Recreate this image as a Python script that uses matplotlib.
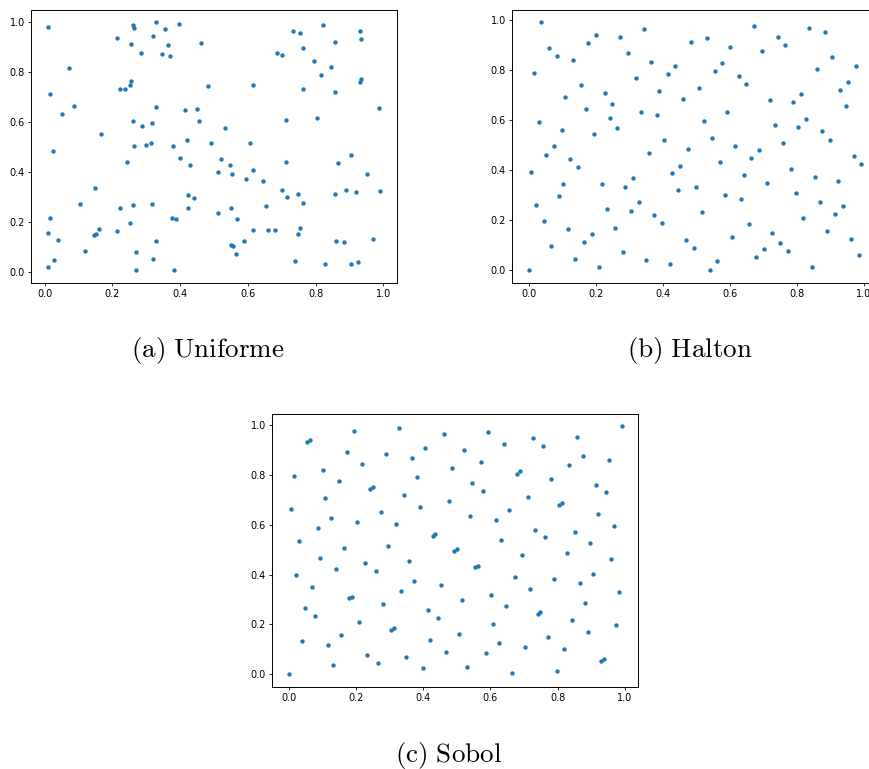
import matplotlib
matplotlib.use("Agg")
import matplotlib.pyplot as plt

# -----------------------------
#  Points
# -----------------------------
unif_x = [0.010, 0.261, 0.263, 0.330, 0.397, 0.354, 0.214, 0.320, 0.256, 0.365,
          0.463, 0.286, 0.347, 0.371, 0.073, 0.254, 0.252, 0.223, 0.237, 0.483,
          0.016, 0.088, 0.053, 0.328, 0.413, 0.449, 0.456, 0.261, 0.317, 0.288,
          0.168, 0.315, 0.421, 0.490,
          0.823, 0.733, 0.755, 0.930, 0.934, 0.858, 0.762, 0.687, 0.701, 0.794,
          0.845, 0.816, 0.934, 0.932, 0.616, 0.764, 0.856, 0.986, 0.712, 0.805,
          0.533, 0.607,
          0.025, 0.265, 0.300, 0.379, 0.243, 0.399, 0.428, 0.149, 0.106, 0.016,
          0.223, 0.261, 0.317, 0.424, 0.441, 0.422, 0.376, 0.387, 0.252, 0.010,
          0.147, 0.151, 0.162, 0.214, 0.040, 0.330, 0.118, 0.271, 0.027, 0.320,
          0.010, 0.271, 0.381,
          0.522, 0.513, 0.546, 0.553, 0.614, 0.712, 0.595, 0.644, 0.866, 0.904,
          0.952, 0.701, 0.716, 0.749, 0.762, 0.857, 0.890, 0.918, 0.990, 0.511,
          0.551, 0.653, 0.568, 0.616, 0.660, 0.680, 0.755, 0.749, 0.590, 0.551,
          0.556, 0.566, 0.861, 0.884, 0.969, 0.740, 0.827, 0.903, 0.924]
unif_y = [0.981, 0.991, 0.979, 1.000, 0.993, 0.973, 0.937, 0.945, 0.913, 0.911,
          0.916, 0.879, 0.872, 0.865, 0.816, 0.765, 0.748, 0.731, 0.733, 0.745,
          0.712, 0.663, 0.632, 0.659, 0.647, 0.653, 0.605, 0.603, 0.595, 0.583,
          0.551, 0.517, 0.527, 0.515,
          0.991, 0.964, 0.957, 0.967, 0.935, 0.923, 0.899, 0.879, 0.869, 0.845,
          0.819, 0.789, 0.772, 0.760, 0.748, 0.733, 0.721, 0.656, 0.608, 0.617,
          0.576, 0.517,
          0.484, 0.503, 0.507, 0.503, 0.440, 0.457, 0.428, 0.337, 0.271, 0.216,
          0.255, 0.268, 0.273, 0.307, 0.295, 0.255, 0.216, 0.212, 0.195, 0.156,
          0.145, 0.151, 0.171, 0.163, 0.127, 0.123, 0.083, 0.077, 0.047, 0.052,
          0.020, 0.008, 0.005,
          0.452, 0.401, 0.428, 0.392, 0.408, 0.440, 0.372, 0.363, 0.437, 0.467,
          0.393, 0.328, 0.299, 0.313, 0.275, 0.313, 0.328, 0.321, 0.324, 0.236,
          0.257, 0.263, 0.209, 0.168, 0.165, 0.165, 0.173, 0.151, 0.123, 0.107,
          0.103, 0.071, 0.123, 0.120, 0.129, 0.044, 0.032, 0.032, 0.037]

halton_x = [0.036, 0.014, 0.061, 0.085, 0.132, 0.178, 0.201, 0.273, 0.344, 0.295,
            0.366, 0.319, 0.414, 0.436, 0.156, 0.107, 0.226, 0.389, 0.248, 0.171,
            0.242, 0.335, 0.383, 0.029, 0.100, 0.264, 0.194, 0.404,
            0.672, 0.835, 0.884, 0.485, 0.531, 0.602, 0.743, 0.696, 0.765, 0.906,
            0.977, 0.578, 0.556, 0.626, 0.860, 0.648, 0.507, 0.954, 0.930, 0.461,
            0.719, 0.813, 0.790, 0.946, 0.593, 0.523, 0.734, 0.829, 0.805, 0.875,
            0.547, 0.758, 0.899,
            0.076, 0.052, 0.123, 0.147, 0.005, 0.359, 0.427, 0.101, 0.219, 0.288,
            0.312, 0.091, 0.021, 0.233, 0.304, 0.328, 0.374, 0.398, 0.046, 0.116,
            0.257, 0.187, 0.164, 0.067, 0.280, 0.139, 0.350, 0.421, 0.209, 0.000,
            0.476, 0.616, 0.688, 0.451, 0.445, 0.571, 0.663, 0.641, 0.782, 0.853,
            0.970, 0.992, 0.712, 0.924, 0.500, 0.586, 0.632, 0.798, 0.868, 0.939,
            0.516, 0.820, 0.915, 0.657, 0.890, 0.469, 0.608, 0.727, 0.492, 0.749,
            0.703, 0.774, 0.962, 0.678, 0.985, 0.562, 0.540, 0.844]
halton_y = [0.991, 0.790, 0.890, 0.858, 0.840, 0.908, 0.940, 0.931, 0.964, 0.867,
            0.831, 0.767, 0.783, 0.817, 0.742, 0.693, 0.707, 0.716, 0.665, 0.643,
            0.610, 0.633, 0.619, 0.592, 0.560, 0.568, 0.543, 0.519,
            0.975, 0.970, 0.952, 0.914, 0.928, 0.892, 0.933, 0.878, 0.902, 0.851,
            0.818, 0.827, 0.795, 0.777, 0.805, 0.745, 0.728, 0.754, 0.722, 0.684,
            0.680, 0.704, 0.671, 0.655, 0.631, 0.598, 0.580, 0.604, 0.571, 0.556,
            0.530, 0.507, 0.521,
            0.495, 0.459, 0.445, 0.412, 0.394, 0.469, 0.387, 0.344, 0.344, 0.334,
            0.370, 0.295, 0.261, 0.247, 0.239, 0.271, 0.220, 0.188, 0.196, 0.165,
            0.171, 0.146, 0.114, 0.097, 0.073, 0.046, 0.040, 0.024, 0.015, 0.000,
            0.486, 0.497, 0.479, 0.418, 0.321, 0.433, 0.449, 0.382, 0.406, 0.374,
            0.457, 0.423, 0.350, 0.357, 0.332, 0.300, 0.283, 0.309, 0.273, 0.259,
            0.232, 0.210, 0.226, 0.184, 0.159, 0.123, 0.135, 0.150, 0.089, 0.109,
            0.085, 0.077, 0.126, 0.053, 0.062, 0.036, 0.003, 0.012]

sobol_x = [0.194, 0.328, 0.461, 0.054, 0.062, 0.172, 0.289, 0.406, 0.366, 0.218,
           0.102, 0.485, 0.016, 0.383, 0.148, 0.243, 0.249, 0.344, 0.108, 0.476,
           0.007, 0.390, 0.274, 0.124, 0.203, 0.087, 0.319, 0.430, 0.436, 0.031,
           0.163, 0.296,
           0.593, 0.727, 0.859, 0.991, 0.522, 0.641, 0.758, 0.571, 0.875, 0.953,
           0.835, 0.679, 0.687, 0.782, 0.546, 0.577, 0.914, 0.945, 0.711, 0.804,
           0.813, 0.657, 0.540, 0.617, 0.922, 0.969, 0.733, 0.764, 0.852, 0.632,
           0.898,
           0.093, 0.227, 0.139, 0.258, 0.358, 0.022, 0.069, 0.374, 0.452, 0.334,
           0.178, 0.187, 0.280, 0.047, 0.414, 0.077, 0.445, 0.210, 0.303, 0.313,
           0.156, 0.038, 0.420, 0.116, 0.469, 0.234, 0.350, 0.132, 0.265, 0.400,
           0.000,
           0.491, 0.501, 0.695, 0.828, 0.960, 0.555, 0.562, 0.672, 0.789, 0.905,
           0.868, 0.718, 0.601, 0.984, 0.515, 0.648, 0.883, 0.742, 0.748, 0.844,
           0.608, 0.975, 0.507, 0.890, 0.772, 0.626, 0.702, 0.820, 0.586, 0.931,
           0.938, 0.531, 0.663, 0.797]
sobol_y = [0.977, 0.987, 0.963, 0.931, 0.939, 0.892, 0.885, 0.907, 0.868, 0.844,
           0.821, 0.829, 0.797, 0.790, 0.776, 0.744, 0.752, 0.720, 0.705, 0.696,
           0.663, 0.671, 0.649, 0.625, 0.610, 0.586, 0.601, 0.554, 0.562, 0.533,
           0.508, 0.515,
           0.971, 0.948, 0.953, 0.995, 0.900, 0.924, 0.915, 0.853, 0.877, 0.861,
           0.838, 0.805, 0.815, 0.782, 0.767, 0.734, 0.758, 0.729, 0.710, 0.680,
           0.686, 0.658, 0.634, 0.619, 0.642, 0.595, 0.577, 0.549, 0.571, 0.539,
           0.525,
           0.467, 0.445, 0.421, 0.415, 0.454, 0.399, 0.352, 0.376, 0.358, 0.335,
           0.306, 0.311, 0.280, 0.267, 0.257, 0.234, 0.225, 0.209, 0.177, 0.187,
           0.157, 0.133, 0.139, 0.116, 0.091, 0.077, 0.068, 0.039, 0.044, 0.024,
           0.000,
           0.493, 0.501, 0.477, 0.486, 0.462, 0.429, 0.436, 0.391, 0.382, 0.404,
           0.367, 0.343, 0.319, 0.328, 0.296, 0.272, 0.287, 0.243, 0.248, 0.219,
           0.201, 0.196, 0.163, 0.171, 0.148, 0.124, 0.109, 0.100, 0.085, 0.055,
           0.061, 0.029, 0.007, 0.015]

captions = ["(a) Uniforme", "(b) Halton", "(c) Sobol"]

plt.rcParams["mathtext.fontset"] = "cm"

fig = plt.figure(figsize=(8.69, 7.69), dpi=100)

# axes boxes in figure fractions
boxes = [[0.036, 0.6324, 0.4205, 0.3546],
         [0.5895, 0.6324, 0.4205, 0.3546],
         [0.3133, 0.1070, 0.4212, 0.3550]]
cap_pos = [(0.239, 0.5436), (0.794, 0.5436), (0.516, 0.0182)]
data = [(unif_x, unif_y), (halton_x, halton_y), (sobol_x, sobol_y)]

for box, (xs, ys), cap, (cx, cy) in zip(boxes, data, captions, cap_pos):
    ax = fig.add_axes(box)
    ax.scatter(xs, ys, s=10, color="#1f77b4", linewidths=0)
    ax.set_xticks([0.0, 0.2, 0.4, 0.6, 0.8, 1.0])
    ax.set_yticks([0.0, 0.2, 0.4, 0.6, 0.8, 1.0])
    ax.tick_params(labelsize=7, length=2.5, width=0.6, pad=2)
    for sp in ax.spines.values():
        sp.set_linewidth(0.7)
    label = cap.replace(" ", r"\ ")
    fig.text(cx, cy, r"$\mathrm{" + label + "}$", ha="center", va="center",
             fontsize=19.5)

plt.savefig("out.png", dpi=100)
plt.close()
